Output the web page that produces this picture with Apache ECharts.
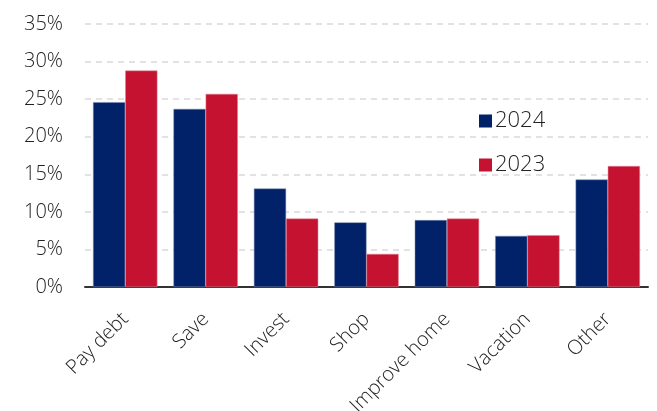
<!DOCTYPE html>
<html>
<head>
<meta charset="utf-8">
<script src="https://cdn.jsdelivr.net/npm/echarts@6/dist/echarts.min.js"></script>
<style>
  html, body { margin: 0; padding: 0; background: #fff; }
  #chart { width: 657px; height: 411px; }
</style>
</head>
<body>
<div id="chart"></div>
<script>
var categories = ["Pay debt", "Save", "Invest", "Shop", "Improve home", "Vacation", "Other"];
var values2024 = [24.6, 23.7, 13.1, 8.6, 8.9, 6.8, 14.3];
var values2023 = [28.8, 25.7, 9.1, 4.4, 9.1, 6.9, 16.1];
var yTicks = [0, 5, 10, 15, 20, 25, 30, 35];

var font = "'Open Sans', 'Noto Sans', sans-serif";
var myChart = echarts.init(document.getElementById("chart"));
var option = {
    animation: false,
    textStyle: { fontFamily: font },
    grid: { left: 85, right: 9, top: 24, bottom: 124, containLabel: false, outerBoundsMode: "none" },
    legend: {
        orient: "vertical",
        left: 474,
        top: 105,
        itemWidth: 13,
        itemHeight: 13,
        itemGap: 22,
        icon: "rect",
        itemStyle: { borderWidth: 0 },
        textStyle: { fontSize: 22, color: "#222", fontWeight: 300, fontFamily: font, padding: [0, 0, 0, -2] },
        data: ["2024", "2023"]
    },
    xAxis: {
        type: "category",
        data: categories,
        axisTick: { show: false },
        axisLine: { lineStyle: { color: "#333", width: 2 } },
        axisLabel: { rotate: 45, fontSize: 20, color: "#222", fontWeight: 300, margin: 29, interval: 0, fontFamily: font }
    },
    yAxis: {
        type: "value",
        min: yTicks[0],
        max: yTicks[yTicks.length - 1],
        interval: 5,
        axisLine: { show: false },
        axisTick: { show: false },
        axisLabel: { formatter: "{value}%", fontSize: 20, color: "#222", fontWeight: 300, margin: 22, fontFamily: font },
        splitLine: { lineStyle: { color: "#d9d9d9", type: [6, 5], width: 1.5 } }
    },
    series: [{
        name: "2024",
        type: "bar",
        data: values2024,
        barGap: "0%",
        barCategoryGap: "20%",
        itemStyle: { color: "#012169", borderColor: "#7f8fb4", borderWidth: 0.5 }
    }, {
        name: "2023",
        type: "bar",
        data: values2023,
        itemStyle: { color: "#c41230", borderColor: "#e08898", borderWidth: 0.5 }
    }]
};
myChart.setOption(option);
</script>
</body>
</html>
